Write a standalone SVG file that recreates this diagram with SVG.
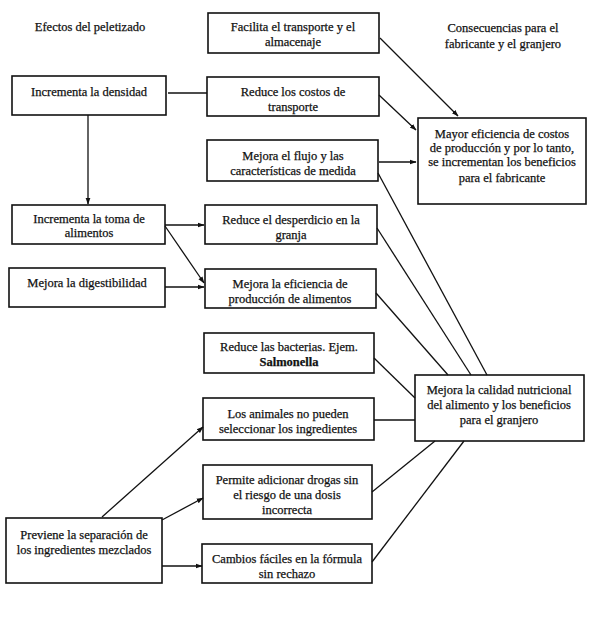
<svg xmlns="http://www.w3.org/2000/svg" width="600" height="629" viewBox="0 0 600 629">
<style>
rect{fill:#fff;stroke:#111;stroke-width:1.6}
text{font-family:"Liberation Serif","Times New Roman",serif;font-size:12.5px;fill:#111;stroke:#111;stroke-width:0.25;text-anchor:middle}
.c line{stroke:#111;stroke-width:1.3}
.b{font-weight:bold}
</style>
<defs>
<marker id="ah" viewBox="0 0 10 10" refX="9" refY="5" markerWidth="7" markerHeight="7" markerUnits="userSpaceOnUse" orient="auto">
<path d="M0,1.5 L10,5 L0,8.5 z" fill="#111"/>
</marker>
</defs>
<rect width="600" height="629" style="stroke:none"/>
<g id="titles">
<text x="90" y="31">Efectos del peletizado</text>
<text x="503" y="32">Consecuencias para el</text>
<text x="503" y="48">fabricante y el granjero</text>
</g>
<g id="facilita"><rect x="208" y="13" width="171" height="40"/><text x="293" y="31">Facilita el transporte y el</text><text x="293" y="46">almacenaje</text></g>
<g id="densidad"><rect x="12" y="76" width="154" height="39"/><text x="89" y="96">Incrementa la densidad</text></g>
<g id="costos"><rect x="207" y="77" width="172" height="39"/><text x="293" y="96">Reduce los costos de</text><text x="293" y="111">transporte</text></g>
<g id="flujo"><rect x="207" y="140" width="171" height="41"/><text x="293" y="160">Mejora el flujo y las</text><text x="293" y="175">características de medida</text></g>
<g id="mayor"><rect x="418" y="118" width="168" height="86"/><text x="502" y="138">Mayor eficiencia de costos</text><text x="502" y="152">de producción y por lo tanto,</text><text x="502" y="166">se incrementan los beneficios</text><text x="502" y="182">para el fabricante</text></g>
<g id="toma"><rect x="12" y="205" width="153" height="39"/><text x="89" y="223">Incrementa la toma de</text><text x="89" y="237">alimentos</text></g>
<g id="desperdicio"><rect x="205" y="205" width="172" height="39"/><text x="291" y="224">Reduce el desperdicio en la</text><text x="291" y="239">granja</text></g>
<g id="digestibilidad"><rect x="9" y="268" width="156" height="39"/><text x="87" y="287">Mejora la digestibilidad</text></g>
<g id="eficiencia"><rect x="205" y="269" width="171" height="39"/><text x="290" y="288">Mejora la eficiencia de</text><text x="290" y="303">producción de alimentos</text></g>
<g id="bacterias"><rect x="204" y="333" width="170" height="40"/><text x="289" y="351">Reduce las bacterias. Ejem.</text><text class="b" x="289" y="366">Salmonella</text></g>
<g id="calidad"><rect x="415" y="375" width="169" height="66"/><text x="499" y="394">Mejora la calidad nutricional</text><text x="499" y="409">del alimento y los beneficios</text><text x="499" y="424">para el granjero</text></g>
<g id="animales"><rect x="203" y="398" width="171" height="42"/><text x="288" y="418">Los animales no pueden</text><text x="288" y="433">seleccionar los ingredientes</text></g>
<g id="drogas"><rect x="203" y="465" width="169" height="54"/><text x="287" y="484">Permite adicionar drogas sin</text><text x="287" y="499">el riesgo de una dosis</text><text x="287" y="514">incorrecta</text></g>
<g id="previene"><rect x="6" y="518" width="156" height="65"/><text x="84" y="539">Previene la separación de</text><text x="84" y="554">los ingredientes mezclados</text></g>
<g id="cambios"><rect x="202" y="544" width="170" height="39"/><text x="287" y="563">Cambios fáciles en la fórmula</text><text x="287" y="578">sin rechazo</text></g>
<g id="connectors" class="c">
<line x1="168" y1="93" x2="207" y2="93"/>
<line x1="380" y1="38" x2="458" y2="116" marker-end="url(#ah)"/>
<line x1="379" y1="95" x2="416" y2="130" marker-end="url(#ah)"/>
<line x1="379" y1="162" x2="416" y2="162" marker-end="url(#ah)"/>
<line x1="88" y1="115" x2="88" y2="204" marker-end="url(#ah)"/>
<line x1="165" y1="225" x2="204" y2="225" marker-end="url(#ah)"/>
<line x1="165" y1="226" x2="204" y2="283" marker-end="url(#ah)"/>
<line x1="165" y1="287" x2="204" y2="287" marker-end="url(#ah)"/>
<line x1="378" y1="173" x2="487" y2="375"/>
<line x1="377" y1="228" x2="471" y2="375"/>
<line x1="376" y1="293" x2="448" y2="375"/>
<line x1="374" y1="358" x2="415" y2="398"/>
<line x1="374" y1="420" x2="415" y2="420"/>
<line x1="372" y1="492" x2="435" y2="441"/>
<line x1="372" y1="562" x2="464" y2="441"/>
<line x1="102" y1="517" x2="203" y2="427" marker-end="url(#ah)"/>
<line x1="162" y1="520" x2="203" y2="498" marker-end="url(#ah)"/>
<line x1="162" y1="566" x2="202" y2="566" marker-end="url(#ah)"/>
</g>
</svg>
